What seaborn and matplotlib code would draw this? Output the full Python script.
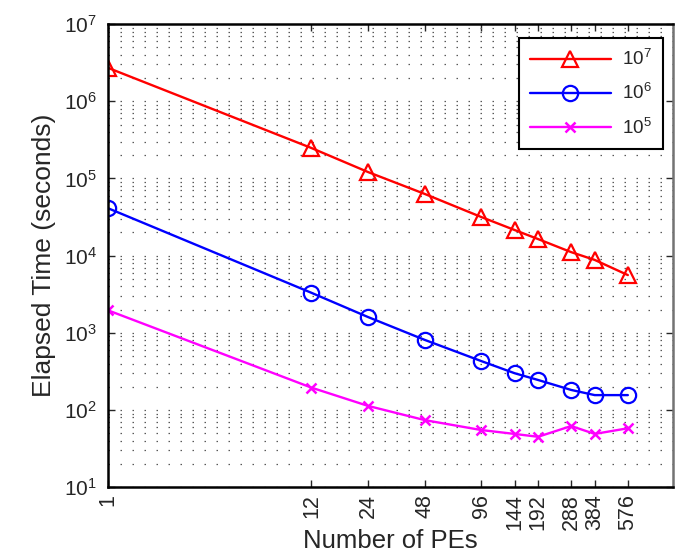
import math
import matplotlib
matplotlib.use("Agg")
import matplotlib.pyplot as plt
import matplotlib.ticker as mticker
import seaborn as sns

# elapsed time vs number of PEs, three problem sizes
pes = [1, 12, 24, 48, 96, 144, 192, 288, 384, 576]
t_1e7 = [2.7e6, 2.48e5, 1.21e5, 6.3e4, 3.16e4, 2.15e4, 1.64e4, 1.11e4, 8.8e3, 5.6e3]
t_1e6 = [4.1e4, 3.3e3, 1.6e3, 8.1e2, 4.3e2, 3.0e2, 2.45e2, 1.82e2, 1.56e2, 1.56e2]
t_1e5 = [1.95e3, 1.95e2, 1.13e2, 74, 55, 49, 45, 62, 49, 58]
labels = [r'$10^7$', r'$10^6$', r'$10^5$']

sns.set_style("ticks")
plt.rcParams['font.family'] = ['Liberation Sans', 'DejaVu Sans']
plt.rcParams['mathtext.fontset'] = 'custom'
plt.rcParams['mathtext.rm'] = 'Liberation Sans'
plt.rcParams['mathtext.default'] = 'regular'

fig = plt.figure(figsize=(6.77, 5.6), dpi=100)
ax = fig.add_axes([0.160, 0.130, 0.834, 0.827])

sns.lineplot(x=pes, y=t_1e7, ax=ax, color='#ff0000', marker='^', markersize=11,
             markerfacecolor='none', markeredgecolor='#ff0000', markeredgewidth=1.6,
             lw=1.7, label=labels[0])
sns.lineplot(x=pes, y=t_1e6, ax=ax, color='#0000ff', marker='o', markersize=11,
             markerfacecolor='none', markeredgecolor='#0000ff', markeredgewidth=1.6,
             lw=1.7, label=labels[1])
sns.lineplot(x=pes, y=t_1e5, ax=ax, color='#ff00ff', marker='x', markersize=7,
             markeredgecolor='#ff00ff', markeredgewidth=1.8,
             lw=1.7, label=labels[2])

ax.set_xscale('log')
ax.set_yscale('log')
ax.set_xlim(1, 1000)
ax.set_ylim(10, 1e7)

ax.xaxis.set_major_locator(mticker.FixedLocator(pes))
ax.xaxis.set_major_formatter(mticker.FixedFormatter([str(p) for p in pes]))
ax.xaxis.set_minor_locator(mticker.NullLocator())
ax.yaxis.set_major_locator(mticker.LogLocator(base=10, numticks=10))
ax.yaxis.set_minor_locator(mticker.LogLocator(base=10, subs=range(2, 10), numticks=20))
ax.yaxis.set_major_formatter(mticker.FuncFormatter(lambda v, p: r'$10^{%d}$' % round(math.log10(v))))

ax.tick_params(axis='x', which='major', direction='in', top=True, length=5, width=1,
               labelsize=15.5, labelrotation=90, pad=5)
ax.tick_params(axis='y', which='major', direction='in', right=True, length=5, width=1,
               labelsize=15, pad=8)
ax.tick_params(axis='y', which='minor', length=0)

ax.grid(True, axis='y', which='both', color='0.35', lw=0.9, ls=(0, (1.2, 8.4)))
ax.set_axisbelow(True)

for s in ax.spines.values():
    s.set_linewidth(1.8)
    s.set_color('black')
ax.spines['right'].set_color('0.45')

ax.set_xlabel('Number of PEs', fontsize=18.5, labelpad=-1)
ax.set_ylabel('Elapsed Time (seconds)', fontsize=19, labelpad=6)

leg = ax.legend(loc='upper right', bbox_to_anchor=(0.982, 0.970), borderaxespad=0,
                fontsize=13.5, handlelength=4.3, labelspacing=0.75, fancybox=False,
                framealpha=1, edgecolor='black', borderpad=0.6, handletextpad=0.6)
leg.get_frame().set_linewidth(1.5)

fig.savefig('out.png', dpi=100)
